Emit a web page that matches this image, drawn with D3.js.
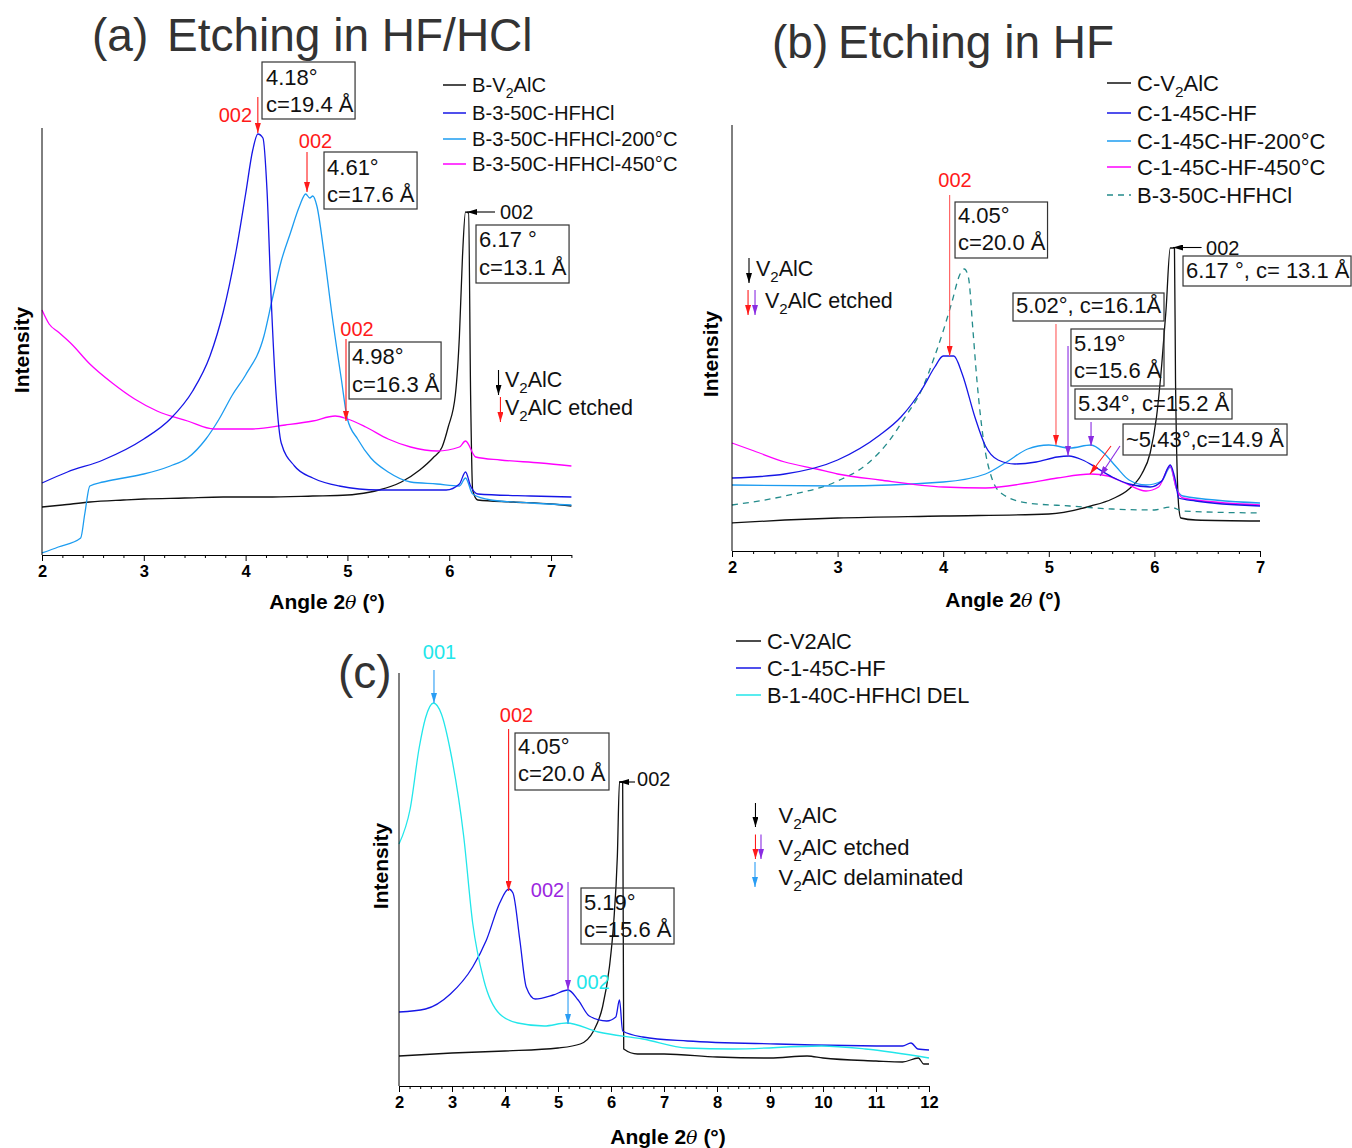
<!DOCTYPE html>
<html><head><meta charset="utf-8">
<script src="https://cdn.jsdelivr.net/npm/d3@7"></script>
<style>
body{margin:0;background:#fff}
svg{display:block}
text{font-family:"Liberation Sans",Arial,sans-serif}
</style>
</head><body>
<svg id="fig" width="1352" height="1148"></svg>
<script>
// ---------------- DATA ----------------
// x = angle 2θ (°), y = intensity (arbitrary units)
const aTicks = [2,3,4,5,6,7];
const bTicks = [2,3,4,5,6,7];
const cTicks = [2,3,4,5,6,7,8,9,10,11,12];

const aLabels = ["B-V_2AlC","B-3-50C-HFHCl","B-3-50C-HFHCl-200°C","B-3-50C-HFHCl-450°C"];
const bLabels = ["C-V_2AlC","C-1-45C-HF","C-1-45C-HF-200°C","C-1-45C-HF-450°C","B-3-50C-HFHCl"];
const cLabels = ["C-V2AlC","C-1-45C-HF","B-1-40C-HFHCl DEL"];

const aBlack = [[2.0,48],[2.2,50],[2.47,53],[2.8,55],[3.0,56],[3.4,57],[3.78,58],[4.2,58],[4.66,59],[5.0,60],[5.1,61],[5.31,65],[5.53,73],[5.71,85],[5.84,97],[5.93,108],[5.99,128],[6.06,160],[6.10,219],[6.13,298],[6.16,343],[6.19,342],[6.21,160],[6.23,65],[6.28,55],[6.63,53],[7.0,51],[7.2,49]];
const aBlue = [[2.0,72],[2.25,83],[2.6,95],[3.0,116],[3.26,136],[3.48,164],[3.65,199],[3.78,243],[3.91,306],[4.0,361],[4.07,405],[4.12,421],[4.17,417],[4.21,365],[4.25,259],[4.30,160],[4.35,112],[4.48,89],[4.66,77],[4.92,69],[5.31,65],[5.97,65],[6.1,71],[6.16,83],[6.21,69],[6.28,61],[6.8,59],[7.2,58]];
const aLight = [[2.0,2],[2.16,8],[2.38,17],[2.42,41],[2.47,69],[2.6,73],[2.8,77],[3.0,81],[3.26,89],[3.43,97],[3.61,116],[3.74,136],[3.87,160],[4.0,180],[4.18,219],[4.26,255],[4.35,294],[4.44,322],[4.53,349],[4.59,361],[4.63,357],[4.66,359],[4.7,349],[4.77,302],[4.85,239],[4.94,176],[5.0,136],[5.1,116],[5.23,97],[5.4,83],[5.62,73],[5.88,71],[6.1,69],[6.16,77],[6.23,61],[6.41,55],[6.8,52],[7.2,50]];
const aMag = [[2.0,245],[2.07,231],[2.16,223],[2.29,211],[2.47,191],[2.69,172],[2.91,156],[3.13,144],[3.43,134],[3.69,126],[4.04,126],[4.39,130],[4.66,134],[4.88,139],[5.0,136],[5.18,128],[5.4,116],[5.62,108],[5.88,104],[6.1,108],[6.16,114],[6.26,98],[6.5,95],[6.9,92],[7.2,89]];

const bBlack = [[2.0,28],[2.5,31],[3.0,33],[4.0,35],[5.0,37],[5.4,45],[5.6,52],[5.76,62],[5.88,77],[5.96,98],[6.02,134],[6.07,187],[6.11,241],[6.15,303],[6.19,303],[6.2,170],[6.23,45],[6.25,33],[6.39,31],[7.0,30]];
const bBlue = [[2.0,73],[2.5,77],[3.0,91],[3.4,116],[3.6,134],[3.8,162],[3.92,184],[4.0,195],[4.1,195],[4.18,177],[4.3,134],[4.4,105],[4.52,91],[4.68,87],[4.88,89],[5.08,94],[5.19,95],[5.32,91],[5.44,84],[5.6,74],[5.76,67],[5.96,64],[6.07,70],[6.15,86],[6.2,70],[6.23,53],[6.39,50],[7.0,45]];
const bLight = [[2.0,66],[3.0,65],[4.0,69],[4.4,77],[4.6,89],[4.8,102],[5.0,106],[5.2,103],[5.4,106],[5.52,98],[5.64,84],[5.76,71],[5.92,66],[6.07,70],[6.15,84],[6.21,62],[6.27,55],[7.0,48]];
const bMag = [[2.0,108],[2.21,100],[2.5,89],[2.8,82],[3.0,77],[3.4,71],[4.0,64],[4.4,63],[4.8,68],[5.08,73],[5.4,77],[5.56,75],[5.72,68],[5.92,60],[6.04,64],[6.15,85],[6.21,62],[6.27,53],[7.0,46]];
const bTeal = [[2.0,46],[2.5,55],[3.0,70],[3.28,87],[3.48,109],[3.64,134],[3.8,162],[3.92,195],[4.0,220],[4.08,248],[4.16,277],[4.2,282],[4.24,273],[4.28,223],[4.32,170],[4.38,112],[4.46,73],[4.56,57],[4.8,48],[5.2,45],[5.6,42],[6.0,41],[6.15,44],[6.27,40],[7.0,38]];

const cBlack = [[2.0,30],[3.0,33],[4.0,35],[5.0,38],[5.42,42],[5.67,55],[5.84,79],[5.97,119],[6.05,163],[6.12,230],[6.16,304],[6.22,304],[6.24,37],[6.5,32],[7.0,32],[8.0,29],[9.0,28],[9.7,30],[10.0,28],[11.0,25],[11.5,24],[11.8,28],[11.9,22],[12.0,22]];
const cBlue = [[2.0,74],[2.5,77],[2.97,92],[3.39,119],[3.65,146],[3.9,183],[4.07,197],[4.15,193],[4.28,146],[4.4,99],[4.57,87],[4.91,91],[5.19,96],[5.38,86],[5.59,70],[5.92,65],[6.09,69],[6.16,86],[6.22,55],[6.6,49],[7.44,45],[9.13,42],[11.5,40],[11.66,43],[11.79,37],[12.0,36]];
const cCyan = [[2.0,242],[2.21,277],[2.38,338],[2.5,368],[2.65,383],[2.8,372],[2.97,335],[3.22,250],[3.39,163],[3.6,106],[3.9,72],[4.24,63],[4.74,60],[5.16,63],[5.76,54],[6.6,47],[7.44,38],[8.29,37],[9.97,40],[10.8,37],[12.0,28]];

// ---------------- STYLE ----------------
const C = {black:"#111111", blue:"#1616e6", light:"#1c9cf0", mag:"#ff00ff", teal:"#238b8b", cyan:"#22e6ea",
           red:"#ff1a1a", purple:"#8a2be2", purpleText:"#9b26e0", dodger:"#2a9df4", dark:"#333333"};

const svg = d3.select("#fig");
const defs = svg.append("defs");
const made = {};
function marker(color){
  const id = "m" + color.replace("#","");
  if(!made[id]){
    made[id] = 1;
    defs.append("marker").attr("id",id).attr("viewBox","0 0 10 6").attr("refX",10).attr("refY",3)
      .attr("markerWidth",10).attr("markerHeight",6).attr("markerUnits","userSpaceOnUse").attr("orient","auto")
      .append("path").attr("d","M0,0L10,3L0,6Z").attr("fill",color);
  }
  return `url(#${id})`;
}
function rich(sel, str, fs){
  const parts = str.split(/_(\d)/);
  parts.forEach((p,i)=>{
    if(!p) return;
    if(i%2===1){ sel.append("tspan").attr("font-size",fs*0.7).attr("dy",fs*0.28).text(p); }
    else { const t = sel.append("tspan").text(p); if(i>0) t.attr("dy",-fs*0.28); }
  });
}

function buildPanel(cfg){
  const g = svg.append("g");
  const x = d3.scaleLinear().domain(cfg.xDomain).range([cfg.left, cfg.right]);
  const y = d3.scaleLinear().domain(cfg.yDomain).range([cfg.bottom, cfg.top]);
  const line = d3.line().x(d=>x(d[0])).y(d=>y(d[1])).curve(d3.curveMonotoneX);
  cfg.series.forEach(s=>{
    g.append("path").datum(s.data).attr("d",line).attr("fill","none")
      .attr("stroke",s.color).attr("stroke-width",1.3).attr("stroke-dasharray",s.dash||null);
  });
  const minor = d3.range(cfg.xDomain[0], cfg.xDomain[1]+1e-9, 0.2).filter(v=>Math.abs(v-Math.round(v))>1e-6);
  g.append("g").attr("transform",`translate(0,${cfg.bottom})`)
    .call(d3.axisBottom(x).tickValues(minor).tickSize(3).tickFormat(""))
    .call(s=>s.select(".domain").remove())
    .call(s=>s.selectAll("line").attr("stroke","#000"));
  g.append("g").attr("transform",`translate(0,${cfg.bottom})`)
    .call(d3.axisBottom(x).tickValues(cfg.ticks).tickSize(6).tickSizeOuter(0).tickPadding(4).tickFormat(d3.format("d")))
    .call(s=>s.select(".domain").attr("stroke","#000"))
    .call(s=>s.selectAll("line").attr("stroke","#000"))
    .call(s=>s.selectAll("text").attr("font-family","Liberation Sans, Arial, sans-serif").attr("font-size",16.5).attr("font-weight","bold").attr("fill","#000"));
  g.append("line").attr("x1",x(cfg.xDomain[0])).attr("x2",x(cfg.xDomain[0]))
    .attr("y1",y(cfg.yDomain[0])).attr("y2",y(cfg.yDomain[1])).attr("stroke","#000");
  const t = g.append("text").attr("x",cfg.xTitle[0]).attr("y",cfg.xTitle[1]).attr("text-anchor","middle")
    .attr("font-size",21).attr("font-weight","bold");
  t.append("tspan").text("Angle 2");
  t.append("tspan").attr("font-style","italic").attr("font-family","DejaVu Serif, serif").attr("font-weight","normal").attr("font-size",19).text("θ");
  t.append("tspan").text(" (°)");
  g.append("text").attr("transform",`translate(${cfg.yTitle[0]},${cfg.yTitle[1]}) rotate(-90)`)
    .attr("text-anchor","middle").attr("font-size",21).attr("font-weight","bold").text("Intensity");
  return {g,x,y};
}

function arrow(P, x0,y0,x1,y1,color,lineColor){
  P.g.append("line").attr("x1",P.x(x0)).attr("y1",P.y(y0)).attr("x2",P.x(x1)).attr("y2",P.y(y1))
    .attr("stroke",lineColor||color).attr("stroke-width",1.1).attr("marker-end",marker(color));
}
function label(P, xd, yd, str, color, fs, anchor){
  const t = P.g.append("text").attr("x",P.x(xd)).attr("y",P.y(yd)).attr("fill",color)
    .attr("font-size",fs).attr("text-anchor",anchor||"start");
  rich(t,str,fs);
  return t;
}
function boxed(P, x0,x1,yT,yB, tx, lines){
  P.g.append("rect").attr("x",P.x(x0)).attr("y",P.y(yT)).attr("width",P.x(x1)-P.x(x0)).attr("height",P.y(yB)-P.y(yT))
    .attr("fill","none").attr("stroke",C.dark).attr("stroke-width",1.2);
  lines.forEach(l=>label(P, tx, l[1], l[0], "#111", 22));
}
function legend(items, x0, x1, tx, ys, fs){
  items.forEach((it,i)=>{
    svg.append("line").attr("x1",x0).attr("x2",x1).attr("y1",ys[i]).attr("y2",ys[i])
      .attr("stroke",it.color).attr("stroke-width",1.5).attr("stroke-dasharray",it.dash||null);
    const t = svg.append("text").attr("x",tx).attr("y",ys[i]+fs*0.36).attr("font-size",fs).attr("fill","#111");
    rich(t,it.label,fs);
  });
}

// ---------------- PANEL (a) ----------------
const A = buildPanel({left:42,right:571.4,top:128,bottom:555,xDomain:[2,7.2],yDomain:[0,427],ticks:aTicks,
  xTitle:[327,609], yTitle:[29,350],
  series:[{data:aBlack,color:C.black},{data:aLight,color:C.light},{data:aMag,color:C.mag},{data:aBlue,color:C.blue}]});
svg.append("text").attr("x",92).attr("y",51).attr("font-size",46).attr("fill",C.dark).text("(a)");
svg.append("text").attr("x",167).attr("y",51).attr("font-size",46).attr("fill",C.dark).text("Etching in HF/HCl");
legend(aLabels.map((l,i)=>({label:l,color:[C.black,C.blue,C.light,C.mag][i]})), 443,466,472,[85,113,139,164],20.2);

arrow(A,4.12,458,4.12,422,C.red);
label(A,4.063,433,"002",C.red,20,"end");
boxed(A,4.161,5.075,493,436,4.20,[["4.18°",470],["c=19.4 Å",443]]);
arrow(A,4.603,403,4.603,363,C.red);
label(A,4.687,407,"002",C.red,20,"middle");
boxed(A,4.770,5.684,403,346,4.80,[["4.61°",380],["c=17.6 Å",353]]);
arrow(A,4.986,216,4.986,134,C.red);
label(A,5.094,219,"002",C.red,20,"middle");
boxed(A,5.016,5.920,213,156,5.045,[["4.98°",191],["c=16.3 Å",163]]);
arrow(A,6.450,343,6.175,343,"#000");
label(A,6.499,336,"002","#111",20);
boxed(A,6.263,7.177,330,272,6.293,[["6.17 °",308],["c=13.1 Å",280]]);
arrow(A,6.484,185,6.484,160,"#000");
label(A,6.548,168,"V_2AlC","#111",21.5);
arrow(A,6.503,158,6.503,133,C.red);
label(A,6.548,140,"V_2AlC etched","#111",21.5);

// ---------------- PANEL (b) ----------------
const B = buildPanel({left:732,right:1260,top:125,bottom:551,xDomain:[2,7],yDomain:[0,426],ticks:bTicks,
  xTitle:[1003,607], yTitle:[718,354],
  series:[{data:bBlack,color:C.black},{data:bTeal,color:C.teal,dash:"6,5"},{data:bLight,color:C.light},{data:bMag,color:C.mag},{data:bBlue,color:C.blue}]});
svg.append("text").attr("x",772).attr("y",58).attr("font-size",46).attr("fill",C.dark).text("(b)");
svg.append("text").attr("x",838).attr("y",58).attr("font-size",46).attr("fill",C.dark).text("Etching in HF");
legend(bLabels.map((l,i)=>({label:l,color:[C.black,C.blue,C.light,C.mag,C.teal][i],dash:i===4?"6,5":null})), 1107,1131,1137,[83,113,141,167,195],22);

label(B,4.112,364,"002",C.red,20,"middle");
arrow(B,4.061,356,4.061,195,C.red,"#ff5a5a");
boxed(B,4.112,4.988,349,293,4.140,[["4.05°",328],["c=20.0 Å",301]]);
arrow(B,6.447,303.5,6.176,303.5,"#000");
label(B,6.489,296,"002","#111",20);
boxed(B,6.271,7.862,295,265,6.299,[["6.17 °, c= 13.1 Å",273]]);
boxed(B,4.661,6.091,258,230,4.689,[["5.02°, c=16.1Å",238]]);
arrow(B,5.068,227,5.068,106,C.red,"#ff5a5a");
boxed(B,5.210,6.091,222,165,5.239,[["5.19°",200],["c=15.6 Å",173]]);
arrow(B,5.182,205,5.182,95,C.purple);
boxed(B,5.248,6.735,162,132,5.277,[["5.34°, c=15.2 Å",140]]);
arrow(B,5.40,129,5.40,105,C.purple);
boxed(B,5.703,7.256,127,96,5.731,[["~5.43°,c=14.9 Å",104]]);
arrow(B,5.589,105,5.390,77,C.red);
arrow(B,5.674,105,5.485,75,C.purple);
arrow(B,2.161,293,2.161,268,"#000");
label(B,2.227,275,"V_2AlC","#111",21.5);
arrow(B,2.152,261,2.152,236,C.red);
arrow(B,2.218,261,2.218,236,C.purple);
label(B,2.312,243,"V_2AlC etched","#111",21.5);

// ---------------- PANEL (c) ----------------
const Cp = buildPanel({left:399,right:929,top:673,bottom:1086,xDomain:[2,12],yDomain:[0,413],ticks:cTicks,
  xTitle:[668,1144], yTitle:[388,866],
  series:[{data:cBlack,color:C.black},{data:cBlue,color:C.blue},{data:cCyan,color:C.cyan}]});
svg.append("text").attr("x",338).attr("y",688).attr("font-size",46).attr("fill",C.dark).text("(c)");
legend(cLabels.map((l,i)=>({label:l,color:[C.black,C.blue,C.cyan][i]})), 736,761,767,[641,668,695],21.8);

label(Cp,2.764,427,"001",C.cyan,20,"middle");
arrow(Cp,2.660,416,2.660,383,C.dodger);
label(Cp,4.217,364,"002",C.red,20,"middle");
arrow(Cp,4.068,357,4.068,195,C.red);
boxed(Cp,4.189,5.962,353,296,4.245,[["4.05°",332],["c=20.0 Å",305]]);
arrow(Cp,6.453,304,6.151,304,"#000");
label(Cp,6.491,300,"002","#111",20);
label(Cp,4.802,189,"002",C.purpleText,20,"middle");
arrow(Cp,5.189,204,5.189,96,C.purple);
arrow(Cp,5.189,96,5.189,62,C.dodger);
label(Cp,5.660,97,"002",C.cyan,20,"middle");
boxed(Cp,5.434,7.189,198,142,5.491,[["5.19°",176],["c=15.6 Å",149]]);
arrow(Cp,8.726,283,8.726,259,"#000");
label(Cp,9.162,263,"V_2AlC","#111",22);
arrow(Cp,8.726,251.5,8.726,227,C.red);
arrow(Cp,8.830,251.5,8.830,227,C.purple);
label(Cp,9.162,231,"V_2AlC etched","#111",22);
arrow(Cp,8.717,224,8.717,199,C.dodger);
label(Cp,9.162,201,"V_2AlC delaminated","#111",22);
</script>
</body></html>
